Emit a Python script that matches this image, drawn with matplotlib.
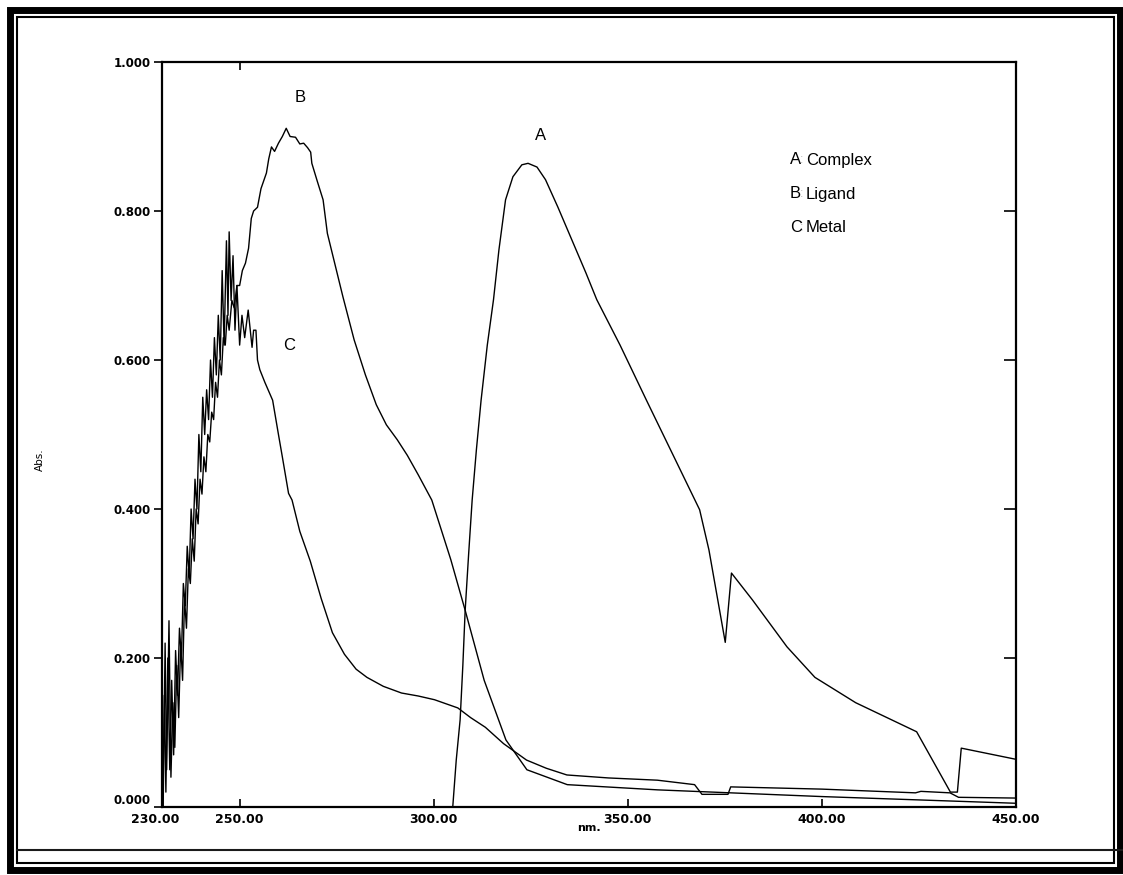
import matplotlib
matplotlib.use("Agg")
import matplotlib.pyplot as plt
from matplotlib.patches import Rectangle
from matplotlib.lines import Line2D
from matplotlib.transforms import ScaledTranslation

# ---- data (wavelength nm, absorbance) ----
complex_nm = [304.9, 305.8, 306.8, 307.5, 308.1, 309.0, 309.9, 311.0, 312.2, 313.8, 315.4,
              316.8, 318.5, 320.4, 322.7, 324.3, 326.6, 328.8, 332.0, 335.6, 339.2, 342.0,
              348.0, 354.8, 361.7, 368.5, 370.9, 375.1, 376.7, 382.1, 391.0, 398.2, 408.7,
              424.4, 433.1, 434.9, 435.9, 450.0]
complex_abs = [0.0, 0.063, 0.117, 0.19, 0.264, 0.34, 0.412, 0.48, 0.546, 0.62, 0.681,
               0.748, 0.815, 0.846, 0.862, 0.864, 0.859, 0.842, 0.805, 0.761, 0.717, 0.681,
               0.62, 0.546, 0.472, 0.399, 0.345, 0.221, 0.314, 0.278, 0.215, 0.174, 0.140,
               0.101, 0.02, 0.02, 0.079, 0.064]

ligand_nm = [230.3, 230.8, 231.2, 231.8, 232.3, 232.8, 233.3, 233.8, 234.3, 234.8, 235.3,
             235.8, 236.3, 236.8, 237.3, 237.8, 238.3, 238.8, 239.3, 239.8, 240.3, 240.8,
             241.3, 241.8, 242.3, 242.8, 243.3, 243.8, 244.3, 244.8, 245.3, 245.8, 246.3,
             246.8, 247.3, 248.0, 248.6, 249.3, 250.0, 250.7, 251.5, 252.3, 253.0, 253.6,
             254.6, 255.5, 256.9, 257.5, 258.2, 259.0, 260.0, 261.0, 262.0, 263.0, 264.4,
             265.5, 266.5, 267.5, 268.3, 268.6, 270.0, 271.5, 272.6, 276.6, 279.5, 282.4,
             285.2, 287.8, 290.6, 293.2, 296.0, 299.5, 304.4, 308.1, 313.0, 318.6, 324.0,
             334.4, 357.7, 400.0, 450.0]
ligand_abs = [0.00, 0.22, 0.05, 0.25, 0.04, 0.14, 0.08, 0.19, 0.12, 0.22, 0.17,
              0.28, 0.24, 0.32, 0.30, 0.36, 0.33, 0.40, 0.38, 0.44, 0.42, 0.47,
              0.45, 0.50, 0.49, 0.53, 0.52, 0.57, 0.55, 0.60, 0.58, 0.63, 0.62,
              0.66, 0.64, 0.68, 0.67, 0.70, 0.70, 0.72, 0.73, 0.75, 0.79, 0.80,
              0.805, 0.83, 0.851, 0.87, 0.886, 0.88, 0.891, 0.90, 0.911, 0.90, 0.899,
              0.89, 0.891, 0.885, 0.879, 0.864, 0.84, 0.815, 0.77, 0.685, 0.627, 0.58,
              0.54, 0.513, 0.493, 0.472, 0.446, 0.412, 0.332, 0.264, 0.17, 0.09, 0.05,
              0.03, 0.023, 0.014, 0.005]

metal_nm = [230.2, 230.6, 231.0, 231.5, 232.0, 232.5, 233.0, 233.5, 234.0, 234.5, 235.0,
            235.5, 236.0, 236.5, 237.0, 237.5, 238.0, 238.5, 239.0, 239.5, 240.0, 240.5,
            241.0, 241.5, 242.0, 242.5, 243.0, 243.5, 244.0, 244.5, 245.0, 245.5, 246.0,
            246.6, 247.0, 247.3, 247.8, 248.3, 248.8, 249.3, 250.0, 250.6, 251.3, 252.2,
            253.2, 253.6, 254.2, 254.6, 255.2, 256.5, 258.5, 260.0, 261.0, 262.6, 263.5,
            265.5, 268.2, 271.0, 273.9, 277.0, 280.0, 282.8, 287.0, 291.7, 296.0, 300.2,
            306.2, 309.5, 313.3, 318.0, 323.9, 329.0, 334.3, 345.0, 357.6, 367.2, 369.1,
            375.8, 376.5, 400.0, 424.1, 425.5, 433.0, 435.2, 450.0]
metal_abs = [0.0, 0.15, 0.02, 0.20, 0.05, 0.17, 0.07, 0.21, 0.15, 0.24, 0.20,
             0.30, 0.27, 0.35, 0.31, 0.40, 0.36, 0.44, 0.40, 0.50, 0.45, 0.55,
             0.50, 0.56, 0.52, 0.60, 0.55, 0.63, 0.58, 0.66, 0.60, 0.72, 0.62,
             0.76, 0.66, 0.772, 0.68, 0.74, 0.64, 0.70, 0.62, 0.66, 0.63, 0.667,
             0.617, 0.64, 0.64, 0.60, 0.587, 0.57, 0.546, 0.50, 0.47, 0.421, 0.412,
             0.37, 0.33, 0.28, 0.234, 0.205, 0.185, 0.174, 0.162, 0.153, 0.149, 0.144,
             0.133, 0.12, 0.107, 0.085, 0.063, 0.052, 0.043, 0.039, 0.036, 0.030, 0.017,
             0.017, 0.027, 0.024, 0.019, 0.021, 0.019, 0.013, 0.012]

x_ticks = [230, 250, 300, 350, 400, 450]
x_tick_labels = ["230.00", "250.00", "300.00", "350.00", "400.00", "450.00"]
y_ticks = [0.0, 0.2, 0.4, 0.6, 0.8, 1.0]
y_tick_labels = ["0.000", "0.200", "0.400", "0.600", "0.800", "1.000"]
legend_letters = ["A", "B", "C"]
legend_names = ["Complex", "Ligand", "Metal"]

W, H = 1123, 875
fig = plt.figure(figsize=(W / 100, H / 100), dpi=100)
fig.patch.set_facecolor("white")

def fx(px):
    return px / W

def fy(py):
    return 1 - py / H

L, R, T, B = 162, 1016, 62, 807
ax = fig.add_axes([fx(L), fy(B), fx(R) - fx(L), fy(T) - fy(B)])

lw = 1.0
ax.plot(complex_nm, complex_abs, color="black", lw=lw)
ax.plot(ligand_nm, ligand_abs, color="black", lw=lw)
ax.plot(metal_nm, metal_abs, color="black", lw=lw)

ax.set_xlim(230, 450)
ax.set_ylim(0, 1)
for s in ax.spines.values():
    s.set_linewidth(1.6)
    s.set_color("black")

ax.set_xticks(x_ticks)
ax.set_xticklabels(x_tick_labels, fontsize=9, family="DejaVu Sans", fontweight="bold")
ax.set_yticks(y_ticks)
ax.set_yticklabels(y_tick_labels, fontsize=8.5, family="DejaVu Sans", fontweight="bold")
ax.tick_params(axis="x", direction="in", length=6, width=1.2, pad=4)
ax.tick_params(axis="y", direction="out", length=6, width=1.2, pad=2)
ax.get_yticklabels()[0].set_va("bottom")
lab0 = ax.get_xticklabels()[0]
lab0.set_transform(lab0.get_transform() + ScaledTranslation(-7 / 100, 0, fig.dpi_scale_trans))

sec_r = ax.secondary_yaxis("right")
sec_r.set_yticks([0.2, 0.4, 0.6, 0.8])
sec_r.tick_params(direction="in", length=9, width=1.2, labelright=False)
sec_r.spines["right"].set_visible(False)
sec_t = ax.secondary_xaxis("top")
sec_t.set_xticks([250])
sec_t.tick_params(direction="in", length=6, width=1.2, labeltop=False)
sec_t.spines["top"].set_visible(False)

ax.set_xlabel("nm.", fontsize=8, fontweight="bold", labelpad=-2)
ax.text(fx(40), fy(460), "Abs.", transform=fig.transFigure, rotation=90,
        ha="center", va="center", fontsize=7.5)

# curve labels
ax.text(265.5, 0.952, "B", fontsize=12, family="Liberation Sans", ha="center", va="center")
ax.text(327.5, 0.902, "A", fontsize=12, family="Liberation Sans", ha="center", va="center")
ax.text(262.7, 0.62, "C", fontsize=12, family="Liberation Sans", ha="center", va="center")

# legend-like text block
for i, (let, name) in enumerate(zip(legend_letters, legend_names)):
    yy = fy(160 + i * 34)
    fig.text(fx(790), yy, let, fontsize=12, family="Liberation Sans", va="center")
    fig.text(fx(800), yy, ":", fontsize=9, family="Liberation Sans", va="center", color="#bbbbbb")
    fig.text(fx(806), yy, name, fontsize=12, family="Liberation Sans", va="center")

# page frame decorations
fig.add_artist(Rectangle((fx(10), fy(870)), fx(1120) - fx(10), fy(10) - fy(870),
                         transform=fig.transFigure, fill=False, lw=5, ec="black"))
fig.add_artist(Rectangle((fx(17), fy(863)), fx(1114) - fx(17), fy(17) - fy(863),
                         transform=fig.transFigure, fill=False, lw=1.5, ec="black"))
fig.add_artist(Line2D([fx(17), fx(1123)], [fy(850), fy(850)], transform=fig.transFigure,
                      color="#1a1a1a", lw=1.5))

fig.savefig("out.png", dpi=100, facecolor="white")
